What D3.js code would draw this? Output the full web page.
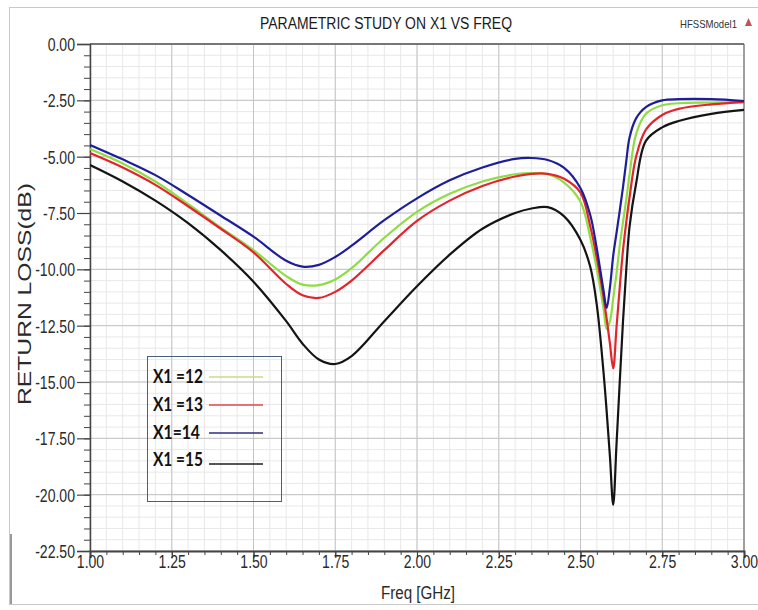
<!DOCTYPE html>
<html>
<head>
<meta charset="utf-8">
<script src="https://cdn.jsdelivr.net/npm/d3@7/dist/d3.min.js"></script>
<style>
  html, body { margin: 0; padding: 0; background: #ffffff; }
  svg { display: block; }
</style>
</head>
<body>
<svg id="chart" width="758" height="610"></svg>
<script>
// ---------------- data ----------------
const freq = [1.00,1.10,1.20,1.30,1.40,1.50,1.60,1.65,1.70,1.75,1.80,1.90,2.00,2.10,2.20,2.30,2.35,2.40,2.45,2.50,2.53,2.55,2.57,2.58,2.59,2.60,2.61,2.62,2.63,2.64,2.65,2.67,2.70,2.75,2.80,2.90,3.00];

const x1_12 = [-4.66,-5.30,-6.10,-7.10,-8.15,-9.15,-10.30,-10.68,-10.70,-10.45,-9.95,-8.60,-7.45,-6.65,-6.10,-5.78,-5.73,-5.78,-6.15,-7.00,-8.60,-10.00,-11.70,-12.65,-12.30,-11.30,-10.20,-8.95,-7.90,-6.90,-5.80,-4.00,-3.10,-2.72,-2.63,-2.60,-2.57];
const x1_13 = [-4.84,-5.48,-6.25,-7.20,-8.20,-9.25,-10.65,-11.15,-11.27,-11.00,-10.50,-9.15,-7.85,-6.95,-6.30,-5.88,-5.76,-5.76,-5.98,-6.60,-8.10,-9.50,-11.20,-12.20,-13.30,-14.40,-12.60,-10.80,-9.15,-7.90,-6.80,-5.00,-3.80,-3.15,-2.88,-2.68,-2.58];
const x1_14 = [-4.48,-5.12,-5.82,-6.70,-7.62,-8.55,-9.62,-9.88,-9.80,-9.45,-8.95,-7.82,-6.85,-6.05,-5.48,-5.10,-5.06,-5.15,-5.50,-6.40,-7.60,-9.10,-10.90,-11.72,-10.80,-9.40,-8.40,-7.40,-6.35,-5.20,-4.15,-3.30,-2.80,-2.50,-2.45,-2.45,-2.53];
const x1_15 = [-5.37,-6.10,-6.95,-7.95,-9.15,-10.55,-12.30,-13.30,-14.00,-14.20,-13.85,-12.30,-10.75,-9.35,-8.20,-7.50,-7.30,-7.24,-7.65,-8.70,-9.90,-11.60,-14.50,-16.30,-18.30,-20.45,-17.80,-15.00,-12.30,-10.00,-8.10,-6.20,-4.30,-3.70,-3.42,-3.10,-2.92];

const seriesNames = ["X1 =12", "X1 =13", "X1=14", "X1 =15"];
const seriesValues = [x1_12, x1_13, x1_14, x1_15];
const seriesColors = ["#8fdc45", "#e2242c", "#1e1e98", "#141414"];
const legendColors = ["#c9dc8a", "#e04848", "#2e2e80", "#1e1e1e"];

const xTickValues = [1.00,1.25,1.50,1.75,2.00,2.25,2.50,2.75,3.00];
const yTickValues = [0,-2.5,-5,-7.5,-10,-12.5,-15,-17.5,-20,-22.5];
const xMinorTicks = d3.range(0, 41).map(i => 1 + i * 0.05);
const yMinorTicks = d3.range(0, 46).map(i => -i * 0.5);

// ---------------- layout ----------------
const svg = d3.select("#chart");
const L = 90, R = 744, T = 44, B = 551;
const x = d3.scaleLinear().domain([1, 3]).range([L, R]);
const y = d3.scaleLinear().domain([0, -22.5]).range([T, B]);
const fmt = d => d.toFixed(2);

// outer frame
svg.append("rect").attr("x", 9.5).attr("y", 7.5).attr("width", 760).attr("height", 597)
  .attr("fill", "none").attr("stroke", "#c9c9c9").attr("stroke-width", 1);
svg.append("line").attr("x1", 11).attr("x2", 11).attr("y1", 534).attr("y2", 604)
  .attr("stroke", "#9a9a9a").attr("stroke-width", 2);

// grid
const grid = svg.append("g");
grid.selectAll(".gxm").data(xMinorTicks).enter().append("line")
  .attr("x1", d => x(d)).attr("x2", d => x(d)).attr("y1", T).attr("y2", B)
  .attr("stroke", "#e8e8e8").attr("stroke-width", 1);
grid.selectAll(".gym").data(yMinorTicks).enter().append("line")
  .attr("x1", L).attr("x2", R).attr("y1", d => y(d)).attr("y2", d => y(d))
  .attr("stroke", "#e8e8e8").attr("stroke-width", 1);
grid.selectAll(".gx").data(xTickValues).enter().append("line")
  .attr("x1", d => x(d)).attr("x2", d => x(d)).attr("y1", T).attr("y2", B)
  .attr("stroke", "#c4c4c4").attr("stroke-width", 1);
grid.selectAll(".gy").data(yTickValues).enter().append("line")
  .attr("x1", L).attr("x2", R).attr("y1", d => y(d)).attr("y2", d => y(d))
  .attr("stroke", "#c4c4c4").attr("stroke-width", 1);

// plot border (top/right)
svg.append("line").attr("x1", L).attr("x2", R).attr("y1", T).attr("y2", T)
  .attr("stroke", "#555").attr("stroke-width", 1.5);
svg.append("line").attr("x1", R).attr("x2", R).attr("y1", T).attr("y2", B)
  .attr("stroke", "#777").attr("stroke-width", 1.2);

// axes
const yAxis = d3.axisLeft(y).tickValues(yTickValues).tickSize(13).tickFormat(fmt);
const yg = svg.append("g").attr("transform", `translate(${L},0)`).call(yAxis);
yg.select(".domain").attr("stroke", "#444").attr("stroke-width", 1.5);
yg.selectAll(".tick line").attr("stroke", "#444").attr("stroke-width", 1.2);
yg.selectAll(".tick text")
  .attr("font-family", "Liberation Sans, Arial, sans-serif").attr("font-size", 19).attr("fill", "#2a2a2a")
  .attr("x", null).attr("dy", "0.35em")
  .attr("transform", "translate(-15,0) scale(0.74,1)");
const yMinorAxis = d3.axisLeft(y).tickValues(yMinorTicks).tickSize(6).tickFormat("");
const ymg = svg.append("g").attr("transform", `translate(${L},0)`).call(yMinorAxis);
ymg.select(".domain").remove();
ymg.selectAll(".tick line").attr("stroke", "#444");

const xAxis = d3.axisBottom(x).tickValues(xTickValues).tickSize(7).tickFormat(fmt);
const xg = svg.append("g").attr("transform", `translate(0,${B})`).call(xAxis);
xg.select(".domain").attr("stroke", "#444").attr("stroke-width", 2);
xg.selectAll(".tick line").attr("stroke", "#444").attr("stroke-width", 1.2);
xg.selectAll(".tick text")
  .attr("font-family", "Liberation Sans, Arial, sans-serif").attr("font-size", 19).attr("fill", "#2a2a2a")
  .attr("y", null).attr("dy", "0.71em")
  .attr("transform", "translate(0,4) scale(0.74,1)");
const xMinorAxis = d3.axisBottom(x).tickValues(xMinorTicks).tickSize(4).tickFormat("");
const xmg = svg.append("g").attr("transform", `translate(0,${B})`).call(xMinorAxis);
xmg.select(".domain").remove();
xmg.selectAll(".tick line").attr("stroke", "#444");

// clip
svg.append("clipPath").attr("id", "plotclip").append("rect")
  .attr("x", L).attr("y", T).attr("width", R - L).attr("height", B - T);

// curves
const line = d3.line().x(d => x(d[0])).y(d => y(d[1])).curve(d3.curveCatmullRom.alpha(0.5));
const curves = svg.append("g").attr("clip-path", "url(#plotclip)");
[0, 1, 2, 3].forEach(i => {
  curves.append("path")
    .datum(freq.map((f, j) => [f, seriesValues[i][j]]))
    .attr("d", line).attr("fill", "none")
    .attr("stroke", seriesColors[i]).attr("stroke-width", 2.2)
    .attr("stroke-linejoin", "round");
});

// legend
const lg = svg.append("g");
lg.append("rect").attr("x", 147.5).attr("y", 356.5).attr("width", 134).attr("height", 145)
  .attr("fill", "none").attr("stroke", "#4a5f80").attr("stroke-width", 1);
const legendY = [377, 405, 433, 460];
const legendW = [50, 50, 47, 50];
seriesNames.forEach((n, i) => {
  lg.append("text").attr("x", 153).attr("y", legendY[i]).attr("dy", "0.35em")
    .attr("font-family", "Lato, Liberation Sans, sans-serif").attr("font-weight", "bold")
    .attr("font-size", 18).attr("fill", "#111")
    .attr("textLength", legendW[i]).attr("lengthAdjust", "spacingAndGlyphs")
    .text(n);
  lg.append("line").attr("x1", 209).attr("x2", 263)
    .attr("y1", legendY[i] + (i === 3 ? 4 : 0)).attr("y2", legendY[i] + (i === 3 ? 4 : 0))
    .attr("stroke", legendColors[i]).attr("stroke-width", 1.6);
});

// titles
svg.append("text").attr("x", 386).attr("y", 29).attr("text-anchor", "middle")
  .attr("font-family", "Liberation Sans, Arial, sans-serif").attr("font-size", 16).attr("fill", "#1a1a1a")
  .attr("textLength", 252).attr("lengthAdjust", "spacingAndGlyphs")
  .text("PARAMETRIC STUDY ON X1 VS FREQ");
svg.append("text").attr("x", 680).attr("y", 28)
  .attr("font-family", "Liberation Sans, Arial, sans-serif").attr("font-size", 11).attr("fill", "#333")
  .attr("textLength", 57).attr("lengthAdjust", "spacingAndGlyphs")
  .text("HFSSModel1");
svg.append("path").attr("d", "M745,26 L748.5,18 L752,26 Z").attr("fill", "#c85050");

svg.append("text").attr("x", 418).attr("y", 599).attr("text-anchor", "middle")
  .attr("font-family", "Liberation Sans, Arial, sans-serif").attr("font-size", 18).attr("fill", "#2a2a2a")
  .attr("textLength", 74).attr("lengthAdjust", "spacingAndGlyphs")
  .text("Freq [GHz]");
svg.append("text").attr("transform", "translate(31,294) rotate(-90)").attr("text-anchor", "middle")
  .attr("font-family", "Liberation Sans, Arial, sans-serif").attr("font-size", 18).attr("fill", "#2a2a2a")
  .attr("textLength", 222).attr("lengthAdjust", "spacingAndGlyphs")
  .text("RETURN LOSS(dB)");
</script>
</body>
</html>
